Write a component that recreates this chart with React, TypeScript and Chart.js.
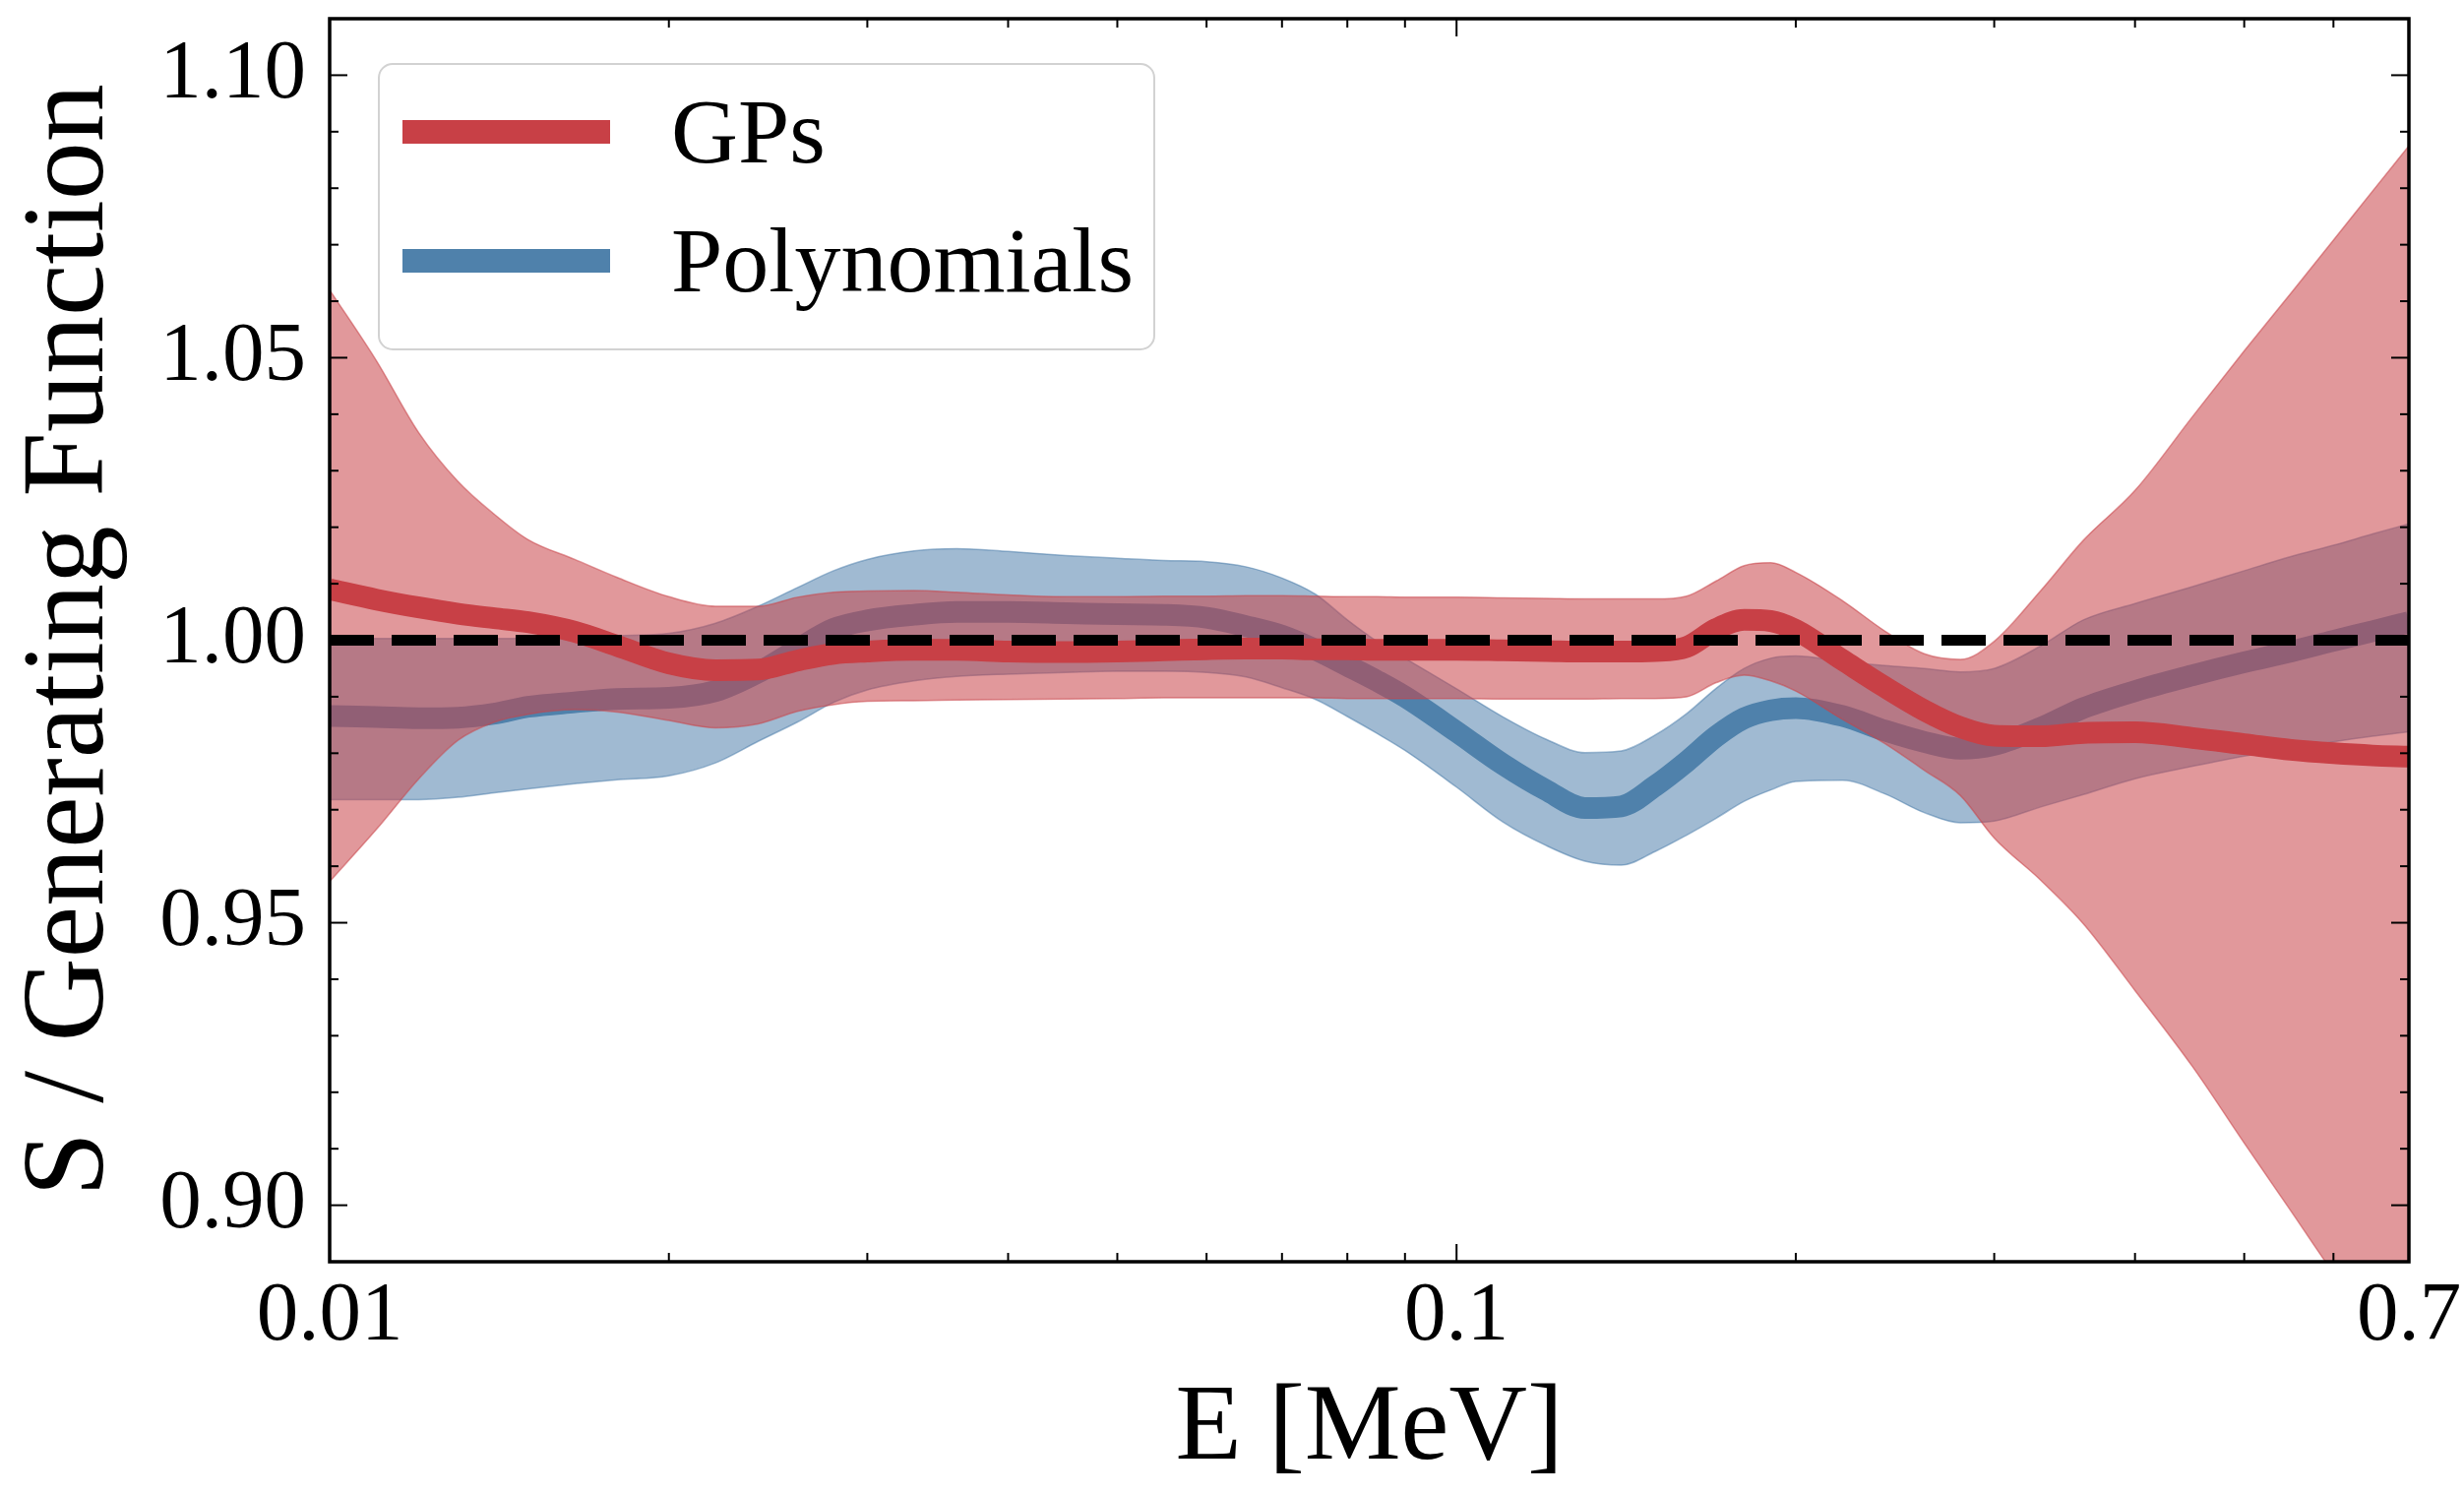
import React, { useEffect, useRef } from 'react';
import { Chart, registerables } from 'chart.js';

Chart.register(...registerables);

// ---------------- data ----------------
const energies = [
  0.010, 0.011, 0.012, 0.013, 0.014, 0.015, 0.0165, 0.018, 0.020, 0.022,
  0.024, 0.026, 0.028, 0.030, 0.033, 0.036, 0.040, 0.045, 0.050, 0.055,
  0.060, 0.065, 0.070, 0.075, 0.080, 0.085, 0.090, 0.100, 0.110, 0.120,
  0.130, 0.140, 0.150, 0.160, 0.170, 0.180, 0.190, 0.200, 0.220, 0.240,
  0.260, 0.280, 0.300, 0.330, 0.360, 0.400, 0.450, 0.500, 0.550, 0.600,
  0.650, 0.700,
];

const gpMean = [
  1.0090, 1.0072, 1.0058, 1.0047, 1.0039, 1.0032, 1.0015, 0.9990, 0.9959, 0.9947,
  0.9948, 0.9964, 0.9976, 0.9980, 0.9983, 0.9983, 0.9980, 0.9979, 0.9980, 0.9982,
  0.9984, 0.9985, 0.9985, 0.9984, 0.9984, 0.9983, 0.9983, 0.9983, 0.9982, 0.9981,
  0.9980, 0.9980, 0.9981, 0.9988, 1.0020, 1.0036, 1.0034, 1.0018, 0.9965, 0.9917,
  0.9876, 0.9846, 0.9831, 0.9830, 0.9836, 0.9837, 0.9827, 0.9816, 0.9806, 0.9800,
  0.9796, 0.9794,
];

const gpUpper = [
  1.0620, 1.0495, 1.0367, 1.0281, 1.0223, 1.0178, 1.0143, 1.0111, 1.0077, 1.0060,
  1.0060, 1.0076, 1.0085, 1.0087, 1.0088, 1.0085, 1.0080, 1.0077, 1.0077, 1.0078,
  1.0078, 1.0079, 1.0079, 1.0078, 1.0077, 1.0077, 1.0076, 1.0076, 1.0075, 1.0074,
  1.0073, 1.0073, 1.0073, 1.0078, 1.0105, 1.0132, 1.0137, 1.0120, 1.0070, 1.0016,
  0.9976, 0.9966, 0.9998, 1.0088, 1.0177, 1.0265, 1.0396, 1.0512, 1.0614, 1.0708,
  1.0795, 1.0875,
];

const gpLower = [
  0.9573, 0.9665, 0.9755, 0.9823, 0.9855, 0.9869, 0.9877, 0.9873, 0.9858, 0.9845,
  0.9852, 0.9874, 0.9886, 0.9892, 0.9893, 0.9894, 0.9895, 0.9896, 0.9897, 0.9898,
  0.9898, 0.9898, 0.9898, 0.9898, 0.9897, 0.9897, 0.9897, 0.9897, 0.9896, 0.9896,
  0.9896, 0.9897, 0.9897, 0.9900, 0.9925, 0.9938, 0.9928, 0.9910, 0.9860, 0.9817,
  0.9770, 0.9725, 0.9650, 0.9575, 0.9498, 0.9380, 0.9245, 0.9110, 0.8990, 0.8880,
  0.8790, 0.8700,
];

const polyMean = [
  0.9866, 0.9864, 0.9862, 0.9863, 0.9870, 0.9882, 0.9890, 0.9896, 0.9898, 0.9910,
  0.9943, 0.9984, 1.0020, 1.0035, 1.0045, 1.0050, 1.0050, 1.0048, 1.0046, 1.0045,
  1.0040, 1.0025, 1.0008, 0.9983, 0.9955, 0.9928, 0.9900, 0.9838, 0.9780, 0.9735,
  0.9703, 0.9706, 0.9742, 0.9785, 0.9830, 0.9862, 0.9876, 0.9880, 0.9866, 0.9840,
  0.9820, 0.9808, 0.9815, 0.9845, 0.9880, 0.9910, 0.9938, 0.9961, 0.9980, 0.9999,
  1.0016, 1.0032,
];

const polyUpper = [
  1.0003, 1.0003, 1.0003, 1.0003, 1.0003, 1.0004, 1.0006, 1.0008, 1.0012, 1.0030,
  1.0060, 1.0093, 1.0123, 1.0143, 1.0158, 1.0162, 1.0157, 1.0150, 1.0145, 1.0141,
  1.0139, 1.0130, 1.0110, 1.0081, 1.0036, 0.9998, 0.9968, 0.9914, 0.9864, 0.9825,
  0.9801, 0.9804, 0.9832, 0.9870, 0.9915, 0.9950, 0.9968, 0.9972, 0.9962, 0.9955,
  0.9950, 0.9944, 0.9950, 0.9990, 1.0036, 1.0065, 1.0095, 1.0123, 1.0148, 1.0168,
  1.0188, 1.0206,
];

const polyLower = [
  0.9718, 0.9718, 0.9718, 0.9722, 0.9730, 0.9737, 0.9746, 0.9753, 0.9760, 0.9783,
  0.9821, 0.9855, 0.9890, 0.9912, 0.9928, 0.9936, 0.9940, 0.9943, 0.9945, 0.9945,
  0.9943, 0.9935, 0.9916, 0.9895, 0.9865, 0.9835, 0.9805, 0.9740, 0.9678, 0.9637,
  0.9609, 0.9602, 0.9626, 0.9655, 0.9685, 0.9715, 0.9735, 0.9750, 0.9752, 0.9728,
  0.9695, 0.9677, 0.9680, 0.9705, 0.9727, 0.9755, 0.9777, 0.9795, 0.9808, 0.9820,
  0.9830, 0.9838,
];

const refEnergies = [0.01, 0.7];
const refValues = [1.0, 1.0];

const seriesLabels = ['GPs', 'Polynomials'];

const xTickLabels = [0.01, 0.1, 0.7];
const xMajorTicks = [0.01, 0.1];
const xMinorTicks = [0.02, 0.03, 0.04, 0.05, 0.06, 0.07, 0.08, 0.09, 0.2, 0.3, 0.4, 0.5, 0.6];
const yTickLabels = [0.9, 0.95, 1.0, 1.05, 1.1];
const yMinorTicks = [
  0.91, 0.92, 0.93, 0.94, 0.96, 0.97, 0.98, 0.99,
  1.01, 1.02, 1.03, 1.04, 1.06, 1.07, 1.08, 1.09,
];

const xTitle = 'E [MeV]';
const yTitle = 'S / Generating Function';

// ---------------- styles ----------------
const FONT = "'Liberation Serif', 'Times New Roman', serif";
const RED = 'rgb(200, 64, 70)';
const RED_BAND = 'rgba(200, 68, 72, 0.55)';
const BLUE = 'rgb(79, 129, 171)';
const BLUE_BAND = 'rgba(72, 122, 168, 0.52)';

const toPts = (xs: number[], ys: number[]) => xs.map((x, i) => ({ x, y: ys[i] }));

// inward ticks on all four sides + frame
const frameTicks = {
  id: 'frameTicks',
  afterDatasetsDraw(chart: any) {
    const { ctx, chartArea } = chart;
    const { left, right, top, bottom } = chartArea;
    const xs = chart.scales.x;
    const ys = chart.scales.y;
    ctx.save();
    ctx.strokeStyle = '#000';
    ctx.lineWidth = 2;
    const seg = (x1: number, y1: number, x2: number, y2: number) => {
      ctx.beginPath();
      ctx.moveTo(x1, y1);
      ctx.lineTo(x2, y2);
      ctx.stroke();
    };
    const drawX = (vals: number[], len: number) => {
      vals.forEach((v) => {
        const p = xs.getPixelForValue(v);
        seg(p, bottom, p, bottom - len);
        seg(p, top, p, top + len);
      });
    };
    const drawY = (vals: number[], len: number) => {
      vals.forEach((v) => {
        const p = ys.getPixelForValue(v);
        seg(left, p, left + len, p);
        seg(right, p, right - len, p);
      });
    };
    drawX(xMajorTicks, 18);
    drawX(xMinorTicks, 9);
    drawY(yTickLabels, 18);
    drawY(yMinorTicks, 9);
    ctx.lineWidth = 3.5;
    ctx.strokeRect(left, top, right - left, bottom - top);
    ctx.restore();
  },
};

// matplotlib-like legend box in the upper-left of the plot
const boxLegend = {
  id: 'boxLegend',
  afterDraw(chart: any) {
    const { ctx, chartArea } = chart;
    const bx = chartArea.left + 50;
    const by = chartArea.top + 46;
    const bw = 788;
    const bh = 290;
    ctx.save();
    ctx.beginPath();
    if (ctx.roundRect) ctx.roundRect(bx, by, bw, bh, 14);
    else ctx.rect(bx, by, bw, bh);
    ctx.fillStyle = 'rgba(255,255,255,0.8)';
    ctx.fill();
    ctx.lineWidth = 2;
    ctx.strokeStyle = '#d2d2d2';
    ctx.stroke();
    const entries = chart.data.datasets.filter((d: any) => seriesLabels.includes(d.label));
    entries.sort((a: any, b: any) => seriesLabels.indexOf(a.label) - seriesLabels.indexOf(b.label));
    entries.forEach((d: any, i: number) => {
      const cy = by + 69 + i * 131;
      ctx.strokeStyle = d.borderColor;
      ctx.lineWidth = 24;
      ctx.lineCap = 'butt';
      ctx.beginPath();
      ctx.moveTo(bx + 24, cy);
      ctx.lineTo(bx + 235, cy);
      ctx.stroke();
      ctx.fillStyle = '#000';
      ctx.font = `94px ${FONT}`;
      ctx.textBaseline = 'alphabetic';
      ctx.textAlign = 'left';
      ctx.fillText(d.label, bx + 297, cy + 31);
    });
    ctx.restore();
  },
};

export default function App() {
  const canvasRef = useRef<HTMLCanvasElement | null>(null);

  useEffect(() => {
    if (!canvasRef.current) return;
    const common = { pointRadius: 0, pointHoverRadius: 0, cubicInterpolationMode: 'monotone' as const };
    const chart = new Chart(canvasRef.current, {
      type: 'line',
      data: {
        datasets: [
          { ...common, label: 'GP lower', data: toPts(energies, gpLower), borderColor: RED_BAND, borderWidth: 1.5, fill: false, order: 3, clip: 0 },
          { ...common, label: 'GP upper', data: toPts(energies, gpUpper), borderColor: RED_BAND, backgroundColor: RED_BAND, borderWidth: 1.5, fill: '-1', order: 3, clip: 0 },
          { ...common, label: seriesLabels[0], data: toPts(energies, gpMean), borderColor: RED, borderWidth: 22, fill: false, order: 2, borderJoinStyle: 'round' },
          { ...common, label: 'Poly lower', data: toPts(energies, polyLower), borderColor: BLUE_BAND, borderWidth: 1.5, fill: false, order: 5, clip: 0 },
          { ...common, label: 'Poly upper', data: toPts(energies, polyUpper), borderColor: BLUE_BAND, backgroundColor: BLUE_BAND, borderWidth: 1.5, fill: '-1', order: 5, clip: 0 },
          { ...common, label: seriesLabels[1], data: toPts(energies, polyMean), borderColor: BLUE, borderWidth: 22, fill: false, order: 4, borderJoinStyle: 'round' },
          { pointRadius: 0, label: 'reference', data: toPts(refEnergies, refValues), borderColor: '#000', borderWidth: 11, borderDash: [45, 18], fill: false, order: 1 },
        ] as any,
      },
      options: {
        responsive: false,
        animation: false,
        devicePixelRatio: 1,
        events: [],
        layout: { padding: { left: 0, top: 19, right: 56, bottom: 0 } },
        plugins: {
          legend: { display: false },
          tooltip: { enabled: false },
          title: { display: false },
        },
        scales: {
          x: {
            type: 'logarithmic',
            min: 0.01,
            max: 0.7,
            grid: { display: false, drawTicks: false },
            border: { display: false },
            afterBuildTicks: (s: any) => {
              s.ticks = xTickLabels.map((v) => ({ value: v }));
            },
            afterFit: (s: any) => {
              s.height = 237;
              s.paddingLeft = 0;
              s.paddingRight = 0;
            },
            ticks: {
              autoSkip: false,
              maxRotation: 0,
              minRotation: 0,
              padding: 6,
              color: '#000',
              font: { family: FONT, size: 85 },
              callback: (v: any) => String(Number(v)),
            },
            title: {
              display: true,
              text: xTitle,
              color: '#000',
              font: { family: FONT, size: 110 },
              padding: { top: 0, bottom: 0 },
            },
          },
          y: {
            type: 'linear',
            min: 0.89,
            max: 1.11,
            grid: { display: false, drawTicks: false },
            border: { display: false },
            afterBuildTicks: (s: any) => {
              s.ticks = yTickLabels.map((v) => ({ value: v }));
            },
            afterFit: (s: any) => {
              s.width = 335;
              s.paddingTop = 0;
              s.paddingBottom = 0;
            },
            ticks: {
              padding: 24,
              color: '#000',
              font: { family: FONT, size: 85 },
              callback: (v: any) => Number(v).toFixed(2),
            },
            title: {
              display: true,
              text: yTitle,
              color: '#000',
              font: { family: FONT, size: 118 },
              padding: { top: 2, bottom: 0 },
            },
          },
        },
      } as any,
      plugins: [frameTicks, boxLegend],
    });
    return () => chart.destroy();
  }, []);

  return (
    <canvas
      ref={canvasRef}
      width={2504}
      height={1519}
      style={{ position: 'fixed', left: 0, top: 0, width: 2504, height: 1519, background: '#fff' }}
    />
  );
}
